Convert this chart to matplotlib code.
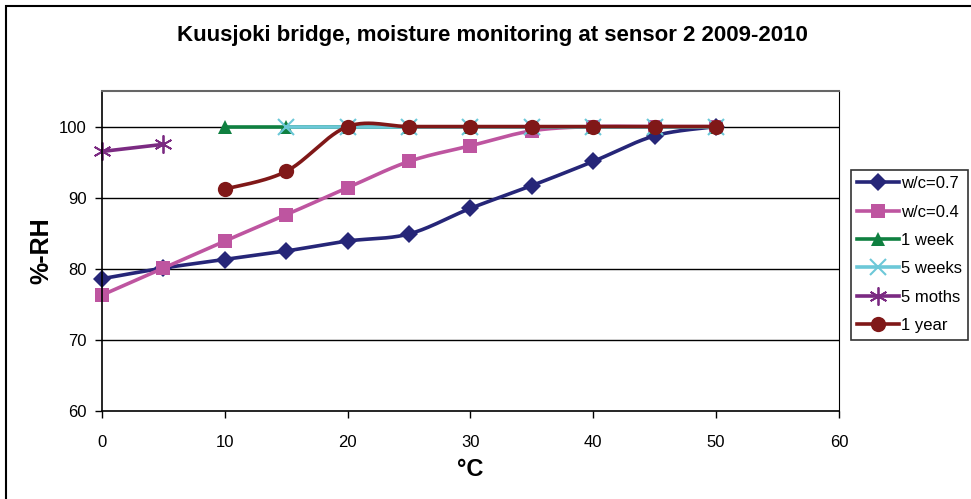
import numpy as np
import matplotlib.pyplot as plt
from matplotlib.patches import Rectangle

plt.rcParams['font.family'] = ['Liberation Sans', 'DejaVu Sans']

# Temperature steps (°C)
temp_all = [0, 5, 10, 15, 20, 25, 30, 35, 40, 45, 50]

# Relative humidity readings (%-RH)
wc07 = [78.6, 80.1, 81.3, 82.5, 83.9, 84.9, 88.5, 91.7, 95.1, 98.7, 100.0]
wc04 = [76.3, 80.1, 83.9, 87.6, 91.4, 95.1, 97.3, 99.4, 100.0, 100.0, 100.0]

temp_1week = [10, 15, 20, 25, 30, 35, 40, 45, 50]
rh_1week = [100, 100, 100, 100, 100, 100, 100, 100, 100]

temp_5weeks = [15, 20, 25, 30, 35, 40, 45, 50]
rh_5weeks = [100, 100, 100, 100, 100, 100, 100, 100]

temp_5months = [0, 5]
rh_5months = [96.5, 97.5]

temp_1year = [10, 15, 20, 25, 30, 35, 40, 45, 50]
rh_1year = [91.2, 93.7, 100, 100, 100, 100, 100, 100, 100]


def smooth(x, y, n=30):
    """Excel-like smoothed line (Catmull-Rom via cubic Bezier)."""
    x = np.asarray(x, float)
    y = np.asarray(y, float)
    if len(x) < 3:
        return x, y
    p = np.column_stack([x, y])
    out = []
    t = np.linspace(0, 1, n)
    for i in range(len(p) - 1):
        p0 = p[i - 1] if i > 0 else p[i]
        p1 = p[i]
        p2 = p[i + 1]
        p3 = p[i + 2] if i + 2 < len(p) else p[i + 1]
        c1 = p1 + (p2 - p0) / 6.0
        c2 = p2 - (p3 - p1) / 6.0
        seg = ((1 - t) ** 3)[:, None] * p1 + (3 * (1 - t) ** 2 * t)[:, None] * c1 \
            + (3 * (1 - t) * t ** 2)[:, None] * c2 + (t ** 3)[:, None] * p2
        out.append(seg if i == 0 else seg[1:])
    s = np.vstack(out)
    return s[:, 0], s[:, 1]


series = [
    ('w/c=0.7', temp_all, wc07, '#262678', 'D', 9, None),
    ('w/c=0.4', temp_all, wc04, '#BE55A0', 's', 10, None),
    ('1 week', temp_1week, rh_1week, '#0F8040', '^', 10, None),
    ('5 weeks', temp_5weeks, rh_5weeks, '#6CC8D8', 'x', 11, 1.5),
    ('5 moths', temp_5months, rh_5months, '#7B2A82', (6, 2, 0), 13, 1.3),
    ('1 year', temp_1year, rh_1year, '#801818', 'o', 11, None),
]

fig = plt.figure(figsize=(9.71, 4.99), dpi=100)
ax = fig.add_axes([0.105, 0.1764, 0.759, 0.6412])

for label, xs, ys, color, marker, ms, mew in series:
    sx, sy = smooth(xs, ys)
    ax.plot(sx, sy, color=color, lw=2.6, solid_capstyle='round', clip_on=False)
    kw = dict(marker=marker, markersize=ms, markeredgewidth=mew if mew else 0)
    ax.plot(xs, ys, color=color, linestyle='none', clip_on=False, **kw)
    # legend proxy
    ax.plot([], [], color=color, lw=2.6, label=label, **kw)

ax.set_xlim(0, 60)
ax.set_ylim(60, 105)
ax.set_xticks(range(0, 61, 10))
ax.set_yticks(range(60, 101, 10))
ax.tick_params(direction='out', length=5, width=1, labelsize=12, pad=6, colors='black')
ax.tick_params(axis='x', pad=12)

for yv in [70, 80, 90, 100]:
    ax.axhline(yv, color='black', lw=1, zorder=0.5)

ax.spines['left'].set_linewidth(1.2)
ax.spines['bottom'].set_linewidth(1.2)
ax.spines['right'].set_color('black')
ax.spines['top'].set_color('#666666')
ax.spines['top'].set_linewidth(1.5)

ax.set_xlabel('°C', fontsize=17, fontweight='bold', labelpad=6)
ax.set_ylabel('%-RH', fontsize=18, fontweight='bold', labelpad=4)
fig.text(0.507, 0.928, 'Kuusjoki bridge, moisture monitoring at sensor 2 2009-2010',
         ha='center', va='center', fontsize=16, fontweight='bold')

leg = ax.legend(loc='upper left', bbox_to_anchor=(0.876, 0.66), bbox_transform=fig.transFigure,
                frameon=True, fancybox=False, edgecolor='black', fontsize=12,
                handlelength=2.5, handletextpad=0.1, labelspacing=0.8, borderpad=0.4,
                borderaxespad=0)
leg.get_frame().set_linewidth(1.2)

# outer chart border
fig.patches.append(Rectangle((6 / 971, -0.1), 2, 1 - 6 / 499 + 0.1, transform=fig.transFigure,
                             fill=False, edgecolor='black', lw=1.5))

fig.savefig('out.png', dpi=100)
